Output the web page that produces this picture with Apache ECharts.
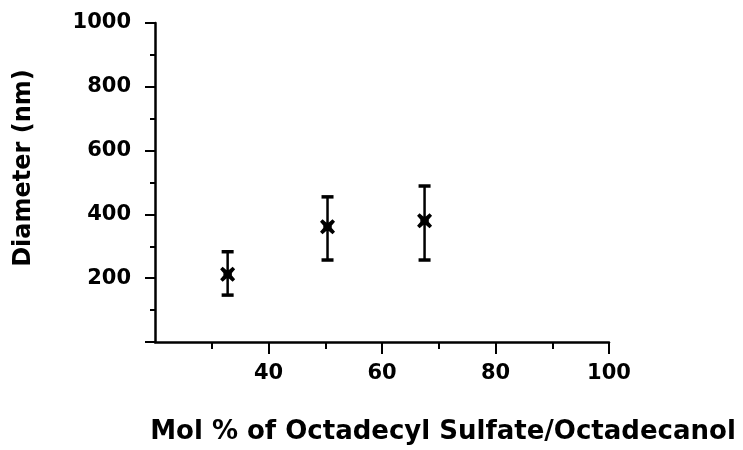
<!DOCTYPE html>
<html>
<head>
<meta charset="utf-8">
<script src="https://cdn.jsdelivr.net/npm/echarts@6/dist/echarts.min.js"></script>
<style>
  html, body { margin: 0; padding: 0; background: #fff; }
  #chart { width: 743px; height: 450px; }
</style>
</head>
<body>
<div id="chart"></div>
<script>
// Particle diameter vs. sulfate fraction
const molPercent = [32.8, 50.4, 67.5];
const diameterMean = [212, 361, 380];
const diameterLow = [147, 257, 257];
const diameterHigh = [283, 455, 489];

const xTickValues = [40, 60, 80, 100];
const yTickValues = [200, 400, 600, 800, 1000];

const xTitle = 'Mol % of Octadecyl Sulfate/Octadecanol';
const yTitle = 'Diameter (nm)';

const FONT = 'DejaVu Sans';
const INK = '#000';

const chart = echarts.init(document.getElementById('chart'), null, { renderer: 'canvas' });

// bold cross with a solid centre, used for the mean values
const starPath = 'path://M2,0 L5,2.6 L7,2.6 L10,0 L12,2 L9.4,5 L9.4,7 L12,10 L10,12 L7,9.4 L5,9.4 L2,12 L0,10 L2.6,7 L2.6,5 L0,2 Z';

chart.setOption({
  animation: false,
  backgroundColor: '#fff',
  grid: { left: 155, right: 134, top: 23, bottom: 108, containLabel: false },
  xAxis: {
    type: 'value', min: 20, max: 100, interval: 20,
    axisLine: { show: true, lineStyle: { color: INK, width: 2.5 } },
    axisTick: { show: true, length: 12, customValues: xTickValues, lineStyle: { color: INK, width: 2 } },
    minorTick: { show: true, splitNumber: 2, length: 7, lineStyle: { color: INK, width: 2 } },
    axisLabel: { customValues: xTickValues, formatter: v => String(v), margin: 21, color: INK, fontFamily: FONT, fontWeight: 'bold', fontSize: 21 },
    splitLine: { show: false }
  },
  yAxis: {
    type: 'value', min: 0, max: 1000, interval: 200,
    axisLine: { show: true, lineStyle: { color: INK, width: 2.5 } },
    axisTick: { show: true, length: 10, lineStyle: { color: INK, width: 2 } },
    minorTick: { show: true, splitNumber: 2, length: 5, lineStyle: { color: INK, width: 2 } },
    axisLabel: { customValues: yTickValues, formatter: v => String(v), margin: 24, color: INK, fontFamily: FONT, fontWeight: 'bold', fontSize: 21 },
    splitLine: { show: false }
  },
  graphic: [
    {
      type: 'text', x: 443, y: 432,
      style: { text: xTitle, fill: INK, font: 'bold 26px "' + FONT + '"', textAlign: 'center', textVerticalAlign: 'middle' }
    },
    {
      type: 'text', x: 24, y: 168, rotation: Math.PI / 2,
      style: { text: yTitle, fill: INK, font: 'bold 24px "' + FONT + '"', textAlign: 'center', textVerticalAlign: 'middle' }
    }
  ],
  series: [
    {
      type: 'custom',
      data: molPercent.map((x, i) => [x, diameterLow[i], diameterHigh[i]]),
      renderItem: function (params, api) {
        const lo = api.coord([api.value(0), api.value(1)]);
        const hi = api.coord([api.value(0), api.value(2)]);
        const half = 6;
        const style = { stroke: INK, lineWidth: 2.5 };
        const capStyle = { stroke: INK, lineWidth: 3.5 };
        return {
          type: 'group',
          children: [
            { type: 'line', shape: { x1: lo[0], y1: lo[1], x2: hi[0], y2: hi[1] }, style: style },
            { type: 'line', shape: { x1: hi[0] - half, y1: hi[1], x2: hi[0] + half, y2: hi[1] }, style: capStyle },
            { type: 'line', shape: { x1: lo[0] - half, y1: lo[1], x2: lo[0] + half, y2: lo[1] }, style: capStyle }
          ]
        };
      },
      z: 2
    },
    {
      type: 'scatter',
      data: molPercent.map((x, i) => [x, diameterMean[i]]),
      symbol: starPath,
      symbolSize: 15,
      itemStyle: { color: INK, opacity: 1 },
      z: 3
    }
  ]
});
</script>
</body>
</html>
